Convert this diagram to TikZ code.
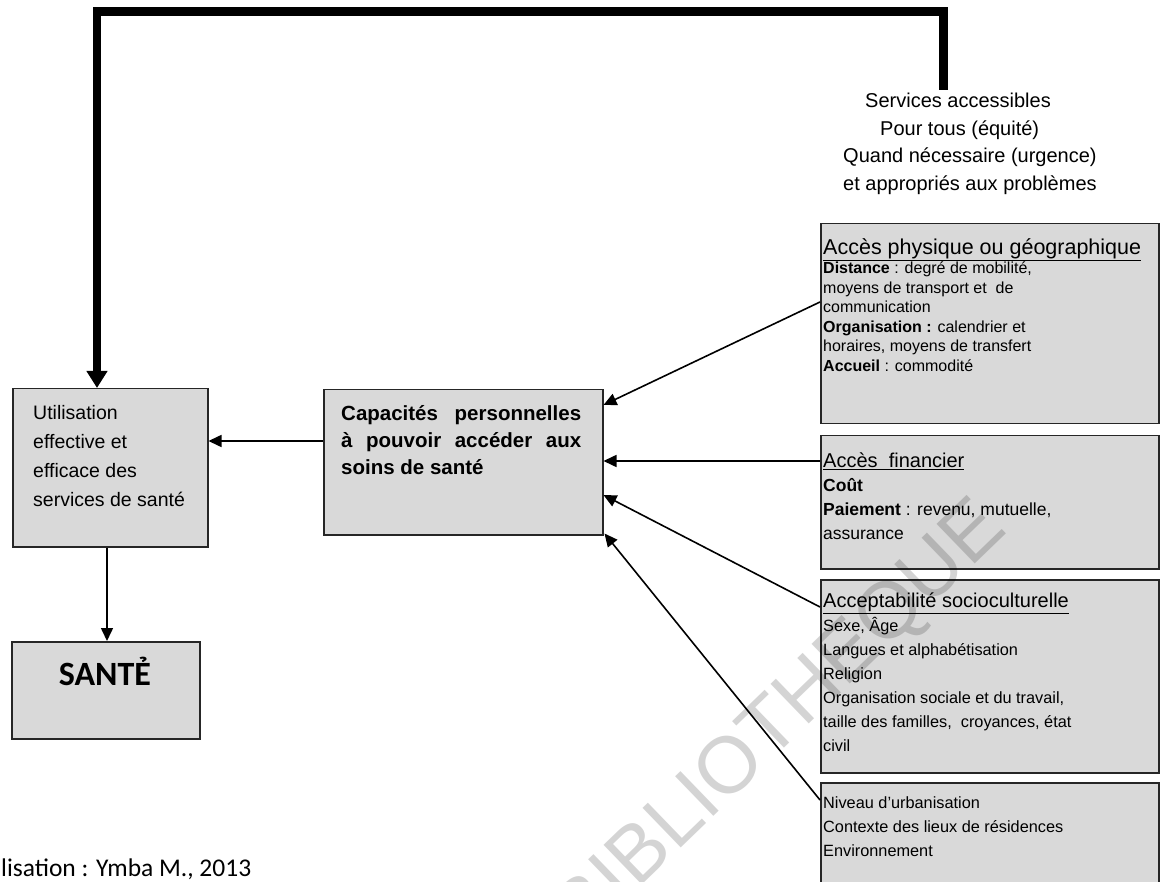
\documentclass[tikz,border=0pt]{standalone}
\usepackage{fontspec}
\setmainfont{Liberation Sans}
\newfontfamily\calfont{Carlito}
\usetikzlibrary{arrows.meta,calc}
\definecolor{boxgray}{RGB}{217,217,217}
\begin{document}
\begin{tikzpicture}[x=1pt,y=-1pt,
  box/.style={draw=black!85,line width=1.5pt,fill=boxgray,anchor=north west,inner sep=0pt},
  txt/.style={anchor=north west,inner sep=0pt,align=left},
  arr/.style={line width=1.6pt,-{Triangle[length=13pt,width=12pt]}},
  fbline/.style={line width=8.5pt,line join=miter,-{Triangle[length=17pt,width=20pt]}}]
\useasboundingbox (0,0) rectangle (1160,882);
% boxes
\node[box,minimum width=195pt,minimum height=158pt] (util) at (12,388) {};
\node[box,minimum width=279pt,minimum height=145pt] (cap) at (323,389) {};
\node[box,minimum width=188pt,minimum height=97pt] (sante) at (11,641) {};
\node[box,minimum width=338pt,minimum height=200pt] (b1) at (820,223) {};
\node[box,minimum width=338pt,minimum height=133pt] (b2) at (820,435) {};
\node[box,minimum width=338pt,minimum height=193pt] (b3) at (820,579) {};
\node[box,minimum width=338pt,minimum height=130pt] (b4) at (820,782) {};
% watermark
\node[rotate=44,font=\fontsize{80}{80}\selectfont,text=black,opacity=0.17] (wm) at (782,722) {BIBLIOTHEQUE};
% texts
\node[txt,font=\fontsize{20}{27.5}\selectfont] (svc) at (843,93)
  {\hspace*{22pt}Services accessibles\\\hspace*{37pt}Pour tous (équité)\\Quand nécessaire (urgence)\\et appropriés aux problèmes};
\node[txt,font=\fontsize{19.5}{29}\selectfont] (utiltxt) at (33,405)
  {Utilisation\\effective et\\efficace des\\services de santé};
\node[txt,font=\bfseries\fontsize{20.5}{27}\selectfont] (captxt) at (341,405)
  {\makebox[240pt][s]{Capacités personnelles}\\\makebox[240pt][s]{à pouvoir accéder aux}\\soins de santé};
\node[font=\calfont\bfseries\fontsize{34}{40}\selectfont] (santetxt) at (105,671) {SANTẺ};
\node[txt,font=\fontsize{16}{19.5}\selectfont] (b1txt) at (823,238)
  {{\fontsize{21.5}{22}\selectfont\underline{Accès physique ou géographique}}\\
   \textbf{Distance} : degré de mobilité,\\
   moyens de transport et\ \ de\\
   communication\\
   \textbf{Organisation :} calendrier et\\
   horaires, moyens de transfert\\
   \textbf{Accueil} : commodité};
\node[txt,font=\fontsize{17.5}{24}\selectfont] (b2txt) at (823,453)
  {{\fontsize{20}{22}\selectfont\underline{Accès\ \ financier}}\\
   \textbf{Coût}\\
   \textbf{Paiement} : revenu, mutuelle,\\
   assurance};
\node[txt,font=\fontsize{16.3}{24}\selectfont] (b3txt) at (823,593)
  {{\fontsize{20}{23}\selectfont\underline{Acceptabilité socioculturelle}}\\
   Sexe, Âge\\
   Langues et alphabétisation\\
   Religion\\
   Organisation sociale et du travail,\\
   taille des familles,\ \ croyances, état\\
   civil};
\node[txt,font=\fontsize{16.3}{24}\selectfont] (b4txt) at (823,796)
  {Niveau d’urbanisation\\
   Contexte des lieux de résidences\\
   Environnement};
\node[anchor=base west,inner sep=0pt,font=\calfont\fontsize{25.5}{28}\selectfont] (src) at (1,876) {lisation : Ymba M., 2013};
% connectors
\coordinate (fbend) at (943.5,90);
\coordinate (fbtop) at (943.5,11.5);
\coordinate (fbleft) at (97,11.5);
\draw[fbline] (fbend) -- (fbtop) -- (fbleft) -- (fbleft |- util.north);
\draw[arr] ($(cap.north west)+(0,52)$) -- ($(util.north east)+(0,53)$);
\draw[arr] ($(util.south west)+(95,0)$) -- ($(sante.north west)+(96,0)$);
\draw[arr] ($(b1.north west)+(0,79)$) -- ($(cap.north east)+(0,16)$);
\draw[arr] ($(b2.north west)+(0,26)$) -- ($(cap.north east)+(0,72)$);
\draw[arr] ($(b3.north west)+(0,28)$) -- ($(cap.north east)+(0,106)$);
\draw[arr] ($(b4.north west)+(0,18)$) -- ($(cap.south east)+(1,-2)$);
\end{tikzpicture}
\end{document}
